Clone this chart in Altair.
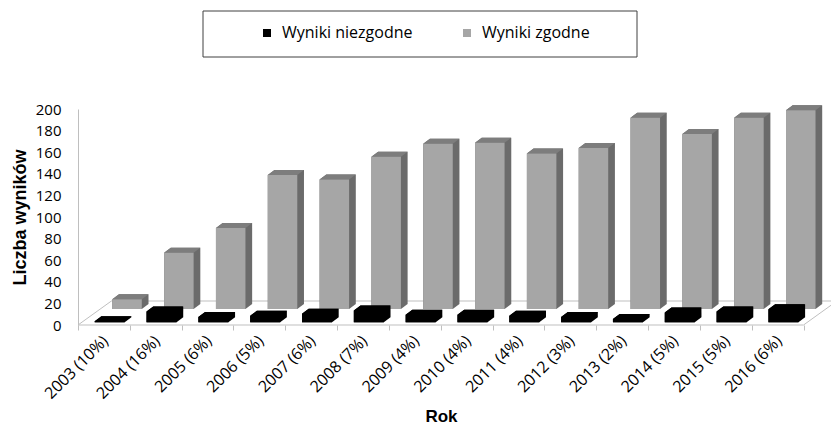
import json
import altair as alt
import pandas as pd

# ---- data -------------------------------------------------------------
rok = ["2003 (10%)", "2004 (16%)", "2005 (6%)", "2006 (5%)", "2007 (6%)",
       "2008 (7%)", "2009 (4%)", "2010 (4%)", "2011 (4%)", "2012 (3%)",
       "2013 (2%)", "2014 (5%)", "2015 (5%)", "2016 (6%)"]
niezgodne = [1, 10, 5, 6, 8, 11, 7, 7, 6, 5, 3, 9, 10, 12]
zgodne = [9, 52, 75, 124, 120, 141, 153, 154, 144, 149, 177, 162, 177, 184]
serie = ["Wyniki niezgodne", "Wyniki zgodne"]
y_ticks = list(range(0, 201, 20))

# ---- layout (pixels) --------------------------------------------------
PLOT_W, PLOT_H = 753, 216
X_MAX = 14.53          # category slots spanned by the plot width
Y_MAX = 200
PX_X = PLOT_W / X_MAX
PX_Y = PLOT_H / Y_MAX

# pseudo-3D look: each series sits in its own depth row
ROW_STYLE = {
    "Wyniki niezgodne": dict(off=16.7, width=30.0, base=2.7,
                             front="#000000", top="#000000", side="#000000"),
    "Wyniki zgodne": dict(off=34.3, width=29.5, base=16.0,
                          front="#a6a6a6", top="#7d7d7d", side="#6b6b6b"),
}
DEPTH_X, DEPTH_Y = 6.7, 5.0      # box depth of every column
FLOOR_X, FLOOR_Y = 33.4, 24.0    # depth of the floor

dx = DEPTH_X / PX_X
dy = DEPTH_Y / PX_Y


def build_boxes(name, values):
    st = ROW_STYLE[name]
    front, hexa, top = [], [], []
    for i, v in enumerate(values):
        x0 = i + st["off"] / PX_X
        x1 = x0 + st["width"] / PX_X
        yb = st["base"] / PX_Y
        yt = yb + v
        bid = f"{name}-{i}"
        front.append(dict(id=bid, seria=name, rok=rok[i], value=v,
                          x0=x0, x1=x1, yb=yb, yt=yt))
        # outline of the whole box (front + top + right side)
        for hx, hy, hy2 in [(x0, yb, yt), (x0 + dx, yb, yt + dy),
                            (x1, yb, yt + dy), (x1 + dx, yb + dy, yt + dy)]:
            hexa.append(dict(id=bid, hx=hx, hy=hy, hy2=hy2))
        # top face
        for ty, tx, tx2 in [(yt, x0, x1), (yt + dy, x0 + dx, x1 + dx)]:
            top.append(dict(id=bid, ty=ty, tx=tx, tx2=tx2))
    return pd.DataFrame(front), pd.DataFrame(hexa), pd.DataFrame(top)


fz, hz, tz = build_boxes("Wyniki zgodne", zgodne)
fn, hn, tn = build_boxes("Wyniki niezgodne", niezgodne)

n = len(rok)
fxu, fyu = FLOOR_X / PX_X, FLOOR_Y / PX_Y
floor = pd.DataFrame([
    dict(x=0, y=0, x2=n, y2=0),
    dict(x=fxu, y=fyu, x2=n + fxu, y2=fyu),
    dict(x=0, y=0, x2=fxu, y2=fyu),
    dict(x=n, y=0, x2=n + fxu, y2=fyu),
])

# ---- scales & axes ----------------------------------------------------
x_scale = alt.Scale(domain=[0, X_MAX], nice=False, zero=False)
y_scale = alt.Scale(domain=[0, Y_MAX], nice=False, zero=False)

label_expr = f"datum.value < {n} ? {json.dumps(rok, ensure_ascii=False)}[datum.value] : ''"
x_axis = alt.Axis(
    values=list(range(n + 1)), labelExpr=label_expr,
    labelAngle=-45, labelAlign="right", labelBaseline="middle",
    labelOffset=27, labelPadding=8, labelFlush=False, labelOverlap=False,
    labelFont="Open Sans", labelFontSize=16, labelColor="#000000",
    domain=False, ticks=True, tickSize=5, tickColor="#bfbfbf", grid=False,
    title="Rok", titleFont="Liberation Sans", titleFontSize=17,
    titleFontWeight="bold", titleColor="#000000",
    titleX=363, titleY=91, titleBaseline="middle", titleAlign="center",
)
y_axis = alt.Axis(
    values=y_ticks, domain=True, domainColor="#bfbfbf", ticks=False,
    grid=False, labelPadding=17, labelFont="Open Sans", labelFontSize=15,
    labelColor="#000000", labelOverlap=False,
    title="Liczba wyników", titleFont="Liberation Sans", titleFontSize=18,
    titleFontWeight="bold", titleColor="#000000", titlePadding=6,
)


def X(f):
    return alt.X(f, type="quantitative", scale=x_scale, axis=x_axis, title="Rok")


def Y(f):
    return alt.Y(f, type="quantitative", scale=y_scale, axis=y_axis,
                 title="Liczba wyników")


color = alt.Color(
    "seria:N",
    scale=alt.Scale(domain=serie, range=["#000000", "#a6a6a6"]),
    legend=alt.Legend(
        orient="none", legendX=181, legendY=-84, direction="horizontal",
        title=None, symbolType="square", symbolSize=64, symbolStrokeWidth=0,
        labelFont="Open Sans", labelFontSize=16, labelColor="#000000",
        labelOffset=7, columnPadding=46, padding=0,
    ),
)

floor_layer = alt.Chart(floor).mark_rule(color="#bfbfbf", strokeWidth=1).encode(
    x=X("x"), y=Y("y"), x2="x2:Q", y2="y2:Q")


def box_layers(front, hexa, top, name):
    st = ROW_STYLE[name]
    side = alt.Chart(hexa).mark_area(color=st["side"], opacity=1).encode(
        x=X("hx"), y=Y("hy"), y2="hy2:Q", detail="id:N")
    topf = alt.Chart(top).mark_area(color=st["top"], orient="horizontal",
                                    opacity=1).encode(
        y=Y("ty"), x=X("tx"), x2="tx2:Q", detail="id:N")
    face = alt.Chart(front).mark_rect().encode(
        x=X("x0"), x2="x1:Q", y=Y("yb"), y2="yt:Q", color=color,
        tooltip=["rok:N", "seria:N", "value:Q"])
    return [side, topf, face]


frame = alt.Chart(pd.DataFrame({"k": [0]})).mark_rect(
    fillOpacity=0, stroke="#404040", strokeWidth=1).encode(
    x=alt.value(125), x2=alt.value(559), y=alt.value(-98), y2=alt.value(-52))

chart = alt.layer(
    floor_layer,
    *box_layers(fz, hz, tz, "Wyniki zgodne"),
    *box_layers(fn, hn, tn, "Wyniki niezgodne"),
    frame,
).properties(
    width=PLOT_W, height=PLOT_H, autosize="none",
    padding={"left": 78, "top": 109, "right": 0, "bottom": 100},
    background="white",
).configure_view(stroke=None)

chart.save("out.html", embed_options={"renderer": "svg", "actions": False})
